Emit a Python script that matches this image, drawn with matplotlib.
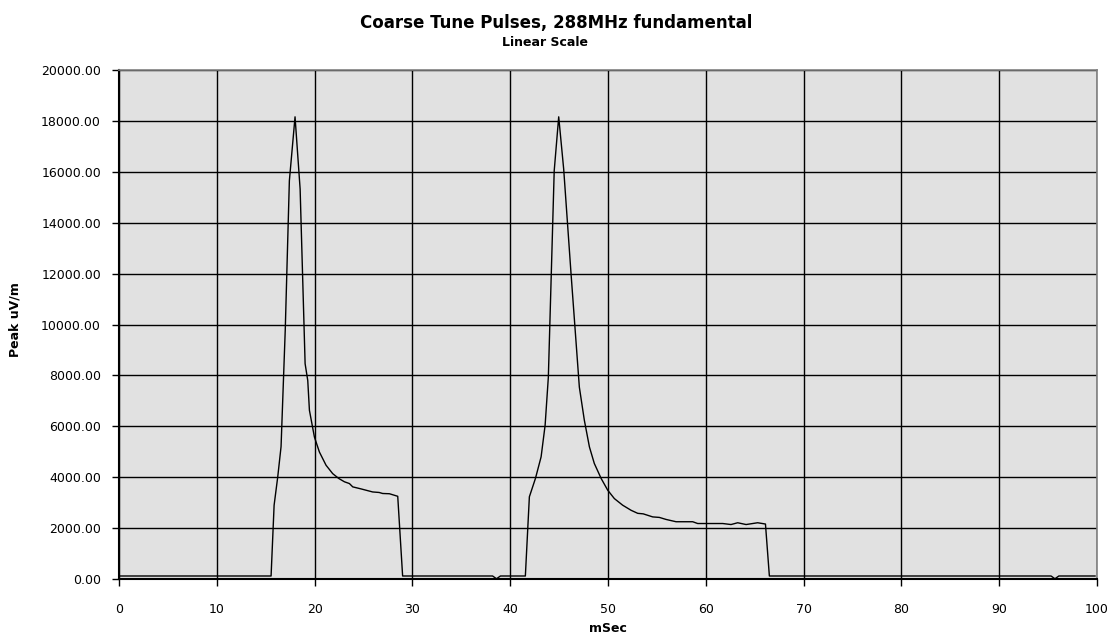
import matplotlib
matplotlib.use("Agg")
import matplotlib.pyplot as plt

# time (mSec) and peak level (uV/m)
t_msec = [0.0, 15.55, 15.86, 16.23, 16.57, 17.0, 17.42, 18.0, 18.52, 19.03, 19.3, 19.47,
          19.98, 20.49, 21.17, 21.85, 22.47, 23.05, 23.56, 23.9, 24.75, 25.94, 26.6,
          26.96, 27.65, 28.5, 29.0, 38.2, 38.6, 39.0, 41.55, 41.96, 42.58, 43.16, 43.57,
          43.9, 44.5, 44.96, 45.47, 46.22, 47.07, 47.58, 48.1, 48.6, 49.3, 49.97, 50.65,
          51.5, 52.36, 53.04, 53.6, 54.57, 55.25, 55.94, 56.96, 58.66, 59.17, 61.73,
          62.58, 63.26, 64.12, 65.3, 66.1, 66.5, 95.3, 95.7, 96.1, 99.8]
peak_uv = [118, 118, 2900, 4010, 5200, 9800, 15650, 18160, 15320, 8460, 7800, 6630,
           5580, 4990, 4470, 4140, 3950, 3820, 3750, 3620, 3540, 3420, 3400,
           3360, 3350, 3250, 118, 118, 10, 118, 118, 3230, 3950, 4800, 6040,
           7930, 16040, 18160, 16100, 12000, 7540, 6240, 5190, 4540, 3950, 3490, 3160,
           2900, 2700, 2580, 2560, 2440, 2420, 2340, 2250, 2250, 2180, 2180,
           2140, 2210, 2140, 2210, 2160, 118, 118, 10, 118, 118]

x_ticks = [0, 10, 20, 30, 40, 50, 60, 70, 80, 90, 100]
y_ticks = [0, 2000, 4000, 6000, 8000, 10000, 12000, 14000, 16000, 18000, 20000]

title = "Coarse Tune Pulses, 288MHz fundamental"
subtitle = "Linear Scale"
x_label = "mSec"
y_label = "Peak uV/m"

plt.rcParams['font.family'] = ['DejaVu Sans']

fig = plt.figure(figsize=(11.15, 6.37), dpi=100)
ax = fig.add_axes([119/1115, 1 - 579/637, (1097 - 119)/1115, (579 - 70)/637])
ax.set_facecolor('#E1E1E1')

ax.plot(t_msec, peak_uv, color='black', linewidth=1.0, zorder=3)

ax.set_xlim(0, 100)
ax.set_ylim(0, 20000)
ax.set_xticks(x_ticks)
ax.set_yticks(y_ticks)
ax.set_xticklabels([str(v) for v in x_ticks], fontsize=9)
ax.set_yticklabels([f"{v:.2f}" for v in y_ticks], fontsize=9)
ax.grid(True, color='black', linewidth=1.0, zorder=1)
ax.set_axisbelow(True)
ax.tick_params(direction='out', length=5, width=1, color='black')
ax.tick_params(axis='y', pad=8)
ax.tick_params(axis='x', pad=12)

for s in ['top', 'right']:
    ax.spines[s].set_color('#808080')
    ax.spines[s].set_linewidth(1.2)
for s in ['left', 'bottom']:
    ax.spines[s].set_color('black')
    ax.spines[s].set_linewidth(1.5)

fig.text(556/1115, 1 - 23/637, title, ha='center', va='center', fontsize=12, fontweight='bold')
fig.text(545/1115, 1 - 42/637, subtitle, ha='center', va='center', fontsize=9, fontweight='bold')
fig.text(15/1115, 1 - 320/637, y_label, ha='center', va='center', rotation=90,
         fontsize=9, fontweight='bold')
fig.text(608/1115, 1 - 628/637, x_label, ha='center', va='center', fontsize=9,
         fontweight='bold')

fig.savefig('out.png', dpi=100, facecolor='white')
